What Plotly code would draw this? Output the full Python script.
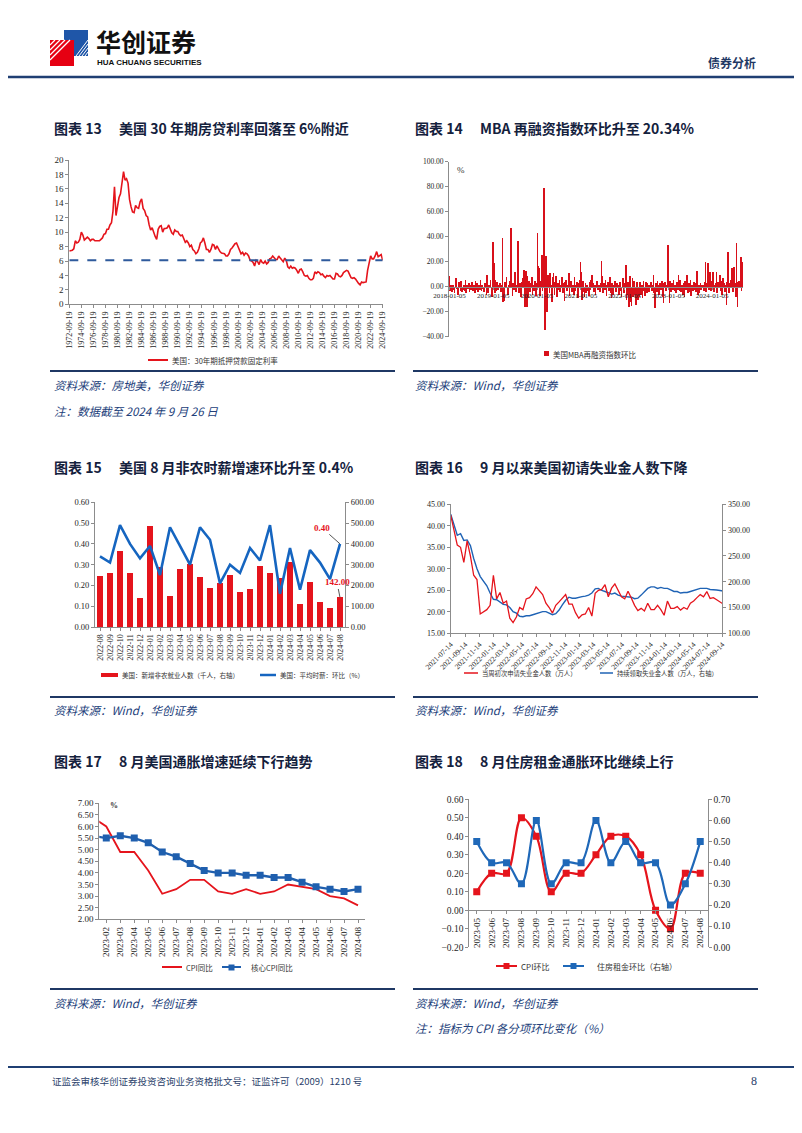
import pandas as pd
import plotly.graph_objects as go

# page size (reference pixels) and the browser's default body offset
PAGE_W, PAGE_H = 802, 1133
OFF = 8
W, H = PAGE_W - 2 * OFF, PAGE_H - 2 * OFF

# ======================= DATA =======================
# Chart 13: US 30-year fixed mortgage rate (%), quarterly readings from 1972-09-19
mortgage_start = "1972-09-19"
mortgage_rate = [
    7.4, 7.4,
    7.5, 7.7, 8.8, 8.5,
    8.6, 9.0, 10.0, 9.6,
    8.9, 9.1, 9.3, 9.1,
    8.8, 9.0, 9.0, 8.8,
    8.8, 8.9, 8.8, 9.0,
    9.2, 9.7, 9.8, 10.4,
    10.4, 11.0, 11.3, 12.9,
    16.3, 12.3, 13.5, 14.8,
    15.3, 16.6, 18.4, 17.2,
    17.4, 16.8, 14.5, 13.5,
    12.8, 12.7, 13.7, 13.4,
    13.3, 14.2, 14.6, 13.3,
    13.0, 12.3, 12.1, 11.0,
    10.3, 10.6, 9.9, 9.4,
    9.0, 10.4, 10.8, 10.9,
    10.0, 10.5, 10.5, 10.6,
    11.0, 10.3, 9.9, 9.7,
    10.3, 10.1, 10.1, 9.7,
    9.5, 9.6, 9.1, 8.6,
    8.8, 8.5, 8.0, 8.2,
    7.6, 7.4, 7.0, 7.2,
    7.7, 8.5, 8.7, 9.2,
    8.5, 7.6, 7.6, 7.2,
    7.6, 8.3, 8.2, 7.6,
    8.1, 7.6, 7.3, 7.1,
    7.0, 7.0, 6.7, 6.7,
    7.0, 7.6, 7.8, 8.1,
    8.4, 8.5, 7.9, 7.4,
    7.0, 7.2, 6.8, 7.1,
    7.0, 6.7, 6.1, 6.0,
    5.8, 5.3, 6.1, 5.9,
    5.5, 6.2, 5.8, 5.7,
    6.0, 5.6, 5.8, 6.3,
    6.4, 6.7, 6.4, 6.2,
    6.2, 6.7, 6.4, 6.1,
    5.9, 6.4, 6.1, 5.2,
    5.0, 5.3, 5.0, 5.1,
    5.0, 4.7, 4.3, 4.8,
    4.9, 4.5, 4.0, 3.9,
    4.0, 3.6, 3.4, 3.4,
    3.6, 4.5, 4.3, 4.5,
    4.4, 4.1, 4.2, 3.9,
    3.7, 4.0, 3.9, 4.0,
    3.7, 3.5, 3.5, 4.3,
    4.2, 3.9, 3.8, 4.0,
    4.4, 4.6, 4.7, 4.6,
    4.1, 3.7, 3.6, 3.7,
    3.5, 3.1, 2.9, 2.7,
    3.1, 3.0, 3.0, 3.1,
    4.7, 5.8, 6.7, 6.3,
    6.3, 6.7, 7.3, 6.6,
    6.8, 6.9, 6.1,
]
mortgage_ref_level = 6.1
mortgage_ticks = [f"{y}-09-19" for y in range(1972, 2025, 2)]

# Chart 14: MBA refinance index, week-on-week change (%), weekly from 2018-01-05
refi_start = "2018-01-05"
refi_2018 = [9, -3, 2, -4, 1, -2, -5, 3, 7, -1, -6, 4, 2, -3, 5, -4, -2, 1, -3, 6, -5, 2, -1, 3, -4, 2,
             -2, 4, -3, 1, -5, 5, -2, 3, -4, 1, -2, 6, -3, 2, -1, -4, 3, 2, -6, 10, -5, 2, 1, 6, -3, -8]
refi_2019 = [36, 19, -5, 6, -3, 4, -2, 1, 3, -4, 2, 39, -12, -11, 4, 2, 8, -3, -6, 2, 5, 47, 5, -7, 3, -2,
             12, -4, 2, 6, 37, -5, 3, -8, 4, 2, 7, 14, -16, 13, -16, 9, -9, 5, -4, 3, 8, -6, 2, -3, 5, -7]
refi_2020 = [3, 43, 17, 15, -7, 5, 26, -3, 10, 79, -34, 25, -20, 10, 3, -5, 11, 2, -12, 8, 11, -6, 4, 9, -8, 3,
             -2, 6, -4, 1, 8, -5, 3, -11, 4, 6, -3, 2, 11, -7, 3, 5, -4, 2, -6, 8, -3, 2, 4, -9, 3, 6]
refi_2021 = [20, 12, -10, 5, -4, -8, 3, -5, 2, -3, -7, 4, -2, 6, 10, 3, -4, 2, -6, 3, 5, -2, 1, -4, 3, 21,
             9, -5, 3, -2, 6, -7, 2, 4, -3, 8, -5, -9, 3, -6, 2, 5, -4, -2, 3, 1, -6, 4, -3, -8, 2, 7]
refi_2022 = [-5, 3, 18, -10, -6, 4, -16, 9, -12, -15, 7, -8, 5, -6, -14, 4, -3, -10, -8, 4, -6, 2, -9, 5, -3, -7,
             4, -5, 3, 2, -4, 1, 4, -3, 2, 10, -5, -17, 3, -4, 5, 2, -6, 3, -2, 5, -8, -13, 3, 4, -3, 2]
refi_2023 = [34, 18, -13, 5, -4, 3, -2, 6, -3, 2, -5, 4, -2, 10, -3, 6, -4, 2, -6, 3, -8, 5, -2, 10, -5, 3,
             -4, 6, -7, 2, -3, 4, -2, 3, -4, 13, -6, 2, -5, 3, -2, 1, 2, -3, 4, 20, -4, 3, 19, -2, 12, -3]
refi_2024 = [-3, 5, 12, -4, 2, 3, 12, -5, 4, 2, 10, -3, 5, -6, 7, 3, -4, 2, -14, 4, 28, -5, 3, 6, 2, 15,
             -4, 16, 3, -8, 35, -16, 4, 5, 2, 24, -3, 20]
refi_change = refi_2018 + refi_2019 + refi_2020 + refi_2021 + refi_2022 + refi_2023 + refi_2024
refi_ticks = ["2018-01-05", "2019-01-05", "2020-01-05", "2021-01-05", "2022-01-05", "2023-01-05", "2024-01-05"]

# Chart 15: nonfarm payrolls (thousand, right) and avg hourly earnings m/m (%, left)
nfp_months = ["2022-08", "2022-09", "2022-10", "2022-11", "2022-12", "2023-01", "2023-02", "2023-03",
              "2023-04", "2023-05", "2023-06", "2023-07", "2023-08", "2023-09", "2023-10", "2023-11",
              "2023-12", "2024-01", "2024-02", "2024-03", "2024-04", "2024-05", "2024-06", "2024-07", "2024-08"]
nfp_jobs = [246, 257, 363, 260, 136, 486, 289, 146, 278, 302, 241, 184, 210, 247, 165, 182,
            290, 256, 236, 310, 108, 216, 118, 89, 142]
ahe_mom = [0.34, 0.31, 0.49, 0.40, 0.33, 0.39, 0.25, 0.48, 0.39, 0.30, 0.48, 0.42, 0.21, 0.30, 0.26, 0.38,
           0.32, 0.49, 0.16, 0.38, 0.18, 0.37, 0.31, 0.23, 0.40]

# Chart 16: initial claims (10k, left) and continuing claims (10k, right), bi-weekly from 2021-07-14
claims_start = "2021-07-14"
initial_claims = [42.5, 39.0, 35.5, 35.0, 31.5, 36.5, 33.0, 28.5, 27.5, 19.5, 20.0, 20.5, 21.5, 28.5, 23.0,
                  24.5, 22.0, 22.5, 18.5, 17.5, 18.8, 21.0, 20.5, 23.0, 23.3, 24.2, 25.8, 25.0, 24.0, 22.0,
                  21.0, 19.7, 21.5, 22.3, 23.2, 24.0, 21.8, 21.8, 19.8, 18.5, 19.3, 19.5, 21.0, 19.0, 24.3,
                  25.0, 25.2, 26.3, 23.5, 25.5, 26.5, 25.0, 23.5, 23.0, 24.8, 23.2, 21.5, 20.3, 20.8, 20.2,
                  22.0, 20.5, 20.5, 21.5, 20.5, 19.2, 22.5, 20.8, 20.8, 21.2, 20.4, 21.0, 20.6, 22.0, 22.5,
                  23.3, 24.0, 23.5, 24.7, 23.1, 23.3, 22.8, 22.3, 21.8]
continuing_claims = [331, 310, 290, 293, 280, 281, 270, 245, 225, 210, 200, 192, 178, 166, 165, 161, 156, 155,
                     150, 142, 139, 133, 132, 134, 134, 136, 138, 141, 142, 142, 139, 136, 138, 145, 155, 164,
                     170, 168, 168, 170, 171, 172, 174, 178, 186, 187, 183, 181, 178, 176, 178, 174, 172, 171,
                     171, 170, 167, 168, 174, 181, 187, 190, 190, 187, 189, 187, 187, 184, 181, 181, 178, 179,
                     179, 181, 183, 185, 187, 187, 187, 185, 185, 184, 183, 182]
claims_ticks = ["2021-07-14", "2021-09-14", "2021-11-14", "2022-01-14", "2022-03-14", "2022-05-14",
                "2022-07-14", "2022-09-14", "2022-11-14", "2023-01-14", "2023-03-14", "2023-05-14",
                "2023-07-14", "2023-09-14", "2023-11-14", "2024-01-14", "2024-03-14", "2024-05-14",
                "2024-07-14", "2024-09-14"]

# Chart 17: CPI y/y and core CPI y/y (%)
cpi_months = ["2023-01", "2023-02", "2023-03", "2023-04", "2023-05", "2023-06", "2023-07", "2023-08",
              "2023-09", "2023-10", "2023-11", "2023-12", "2024-01", "2024-02", "2024-03", "2024-04",
              "2024-05", "2024-06", "2024-07", "2024-08"]
cpi_yoy = [6.4, 6.0, 4.9, 4.9, 4.1, 3.1, 3.3, 3.7, 3.7, 3.2, 3.1, 3.3, 3.1, 3.2, 3.5, 3.4, 3.3, 3.0, 2.9, 2.6]
core_cpi_yoy = [5.6, 5.5, 5.6, 5.5, 5.3, 4.9, 4.7, 4.4, 4.1, 4.0, 4.0, 3.9, 3.9, 3.8, 3.8, 3.6, 3.4, 3.3, 3.2, 3.3]

# Chart 18: CPI m/m (left) and shelter rent m/m (right), %
rent_months = ["2023-05", "2023-06", "2023-07", "2023-08", "2023-09", "2023-10", "2023-11", "2023-12",
               "2024-01", "2024-02", "2024-03", "2024-04", "2024-05", "2024-06", "2024-07", "2024-08"]
cpi_mom = [0.1, 0.2, 0.2, 0.5, 0.4, 0.1, 0.2, 0.2, 0.3, 0.4, 0.4, 0.3, 0.0, -0.1, 0.2, 0.2]
rent_mom = [0.5, 0.4, 0.4, 0.3, 0.6, 0.3, 0.4, 0.4, 0.6, 0.4, 0.5, 0.4, 0.4, 0.2, 0.3, 0.5]

# ======================= STYLE =======================
SERIF = "Liberation Serif, Times New Roman, serif"
CJK = "Noto Sans CJK SC, sans-serif"
RED = "#E5141C"
BLUE = "#1F5FAE"
NAVY = "#1F3864"
AXC = "#8C8C8C"


def X(px):
    return (px - OFF) / W


def Y(py):
    return 1 - (py - OFF) / H


def xdom(a, b):
    return [X(a), X(b)]


def ydom(top, bottom):
    return [Y(bottom), Y(top)]


def axis(size=9, **kw):
    d = dict(showgrid=False, zeroline=False, showline=True, linecolor=AXC, linewidth=1,
             ticks="outside", ticklen=3, tickcolor=AXC, automargin=False,
             tickfont=dict(family=SERIF, size=size, color="#262626"))
    d.update(kw)
    return d


annotations = []
shapes = []


def text(px, py, s, size=10, color="#111", family=CJK, xanchor="left", yanchor="middle", italic=False):
    f = dict(family=family, size=size, color=color)
    if italic:
        f["style"] = "italic"
    annotations.append(dict(x=X(px), y=Y(py), xref="paper", yref="paper", text=s, showarrow=False,
                            xanchor=xanchor, yanchor=yanchor, font=f))


def hline(x0, x1, py, color=NAVY, width=2):
    shapes.append(dict(type="line", xref="paper", yref="paper", x0=X(x0), x1=X(x1), y0=Y(py), y1=Y(py),
                       line=dict(color=color, width=width)))


def rect(x0, y0, x1, y1, fill):
    shapes.append(dict(type="rect", xref="paper", yref="paper", x0=X(x0), x1=X(x1), y0=Y(y0), y1=Y(y1),
                       fillcolor=fill, line=dict(color=fill, width=0)))


def seg(x0, y0, x1, y1, color, width=1):
    shapes.append(dict(type="line", xref="paper", yref="paper", x0=X(x0), x1=X(x1), y0=Y(y0), y1=Y(y1),
                       line=dict(color=color, width=width)))


fig = go.Figure()

# ---------- Chart 13 ----------
mortgage_dates = [pd.Timestamp(mortgage_start) + pd.DateOffset(months=3 * i) for i in range(len(mortgage_rate))]
fig.add_trace(go.Scatter(x=mortgage_dates, y=mortgage_rate, mode="lines", line=dict(color=RED, width=1.6),
                         xaxis="x", yaxis="y", showlegend=False))
fig.add_trace(go.Scatter(x=[mortgage_ticks[0], mortgage_ticks[-1]], y=[mortgage_ref_level] * 2, mode="lines",
                         line=dict(color="#2E5A9C", width=2, dash="dash"), xaxis="x", yaxis="y", showlegend=False))

# ---------- Chart 14 ----------
refi_dates = pd.date_range(refi_start, periods=len(refi_change), freq="7D")
fig.add_trace(go.Bar(x=refi_dates, y=refi_change, marker=dict(color="#D8101A", line=dict(width=0)),
                     width=6 * 86400000, xaxis="x2", yaxis="y2", showlegend=False))

# ---------- Chart 15 ----------
idx15 = list(range(len(nfp_months)))
fig.add_trace(go.Bar(x=idx15, y=nfp_jobs, marker=dict(color=RED, line=dict(width=0)), width=0.58,
                     xaxis="x3", yaxis="y3", showlegend=False))
fig.add_trace(go.Scatter(x=idx15, y=ahe_mom, mode="lines", line=dict(color="#1565C0", width=2.6),
                         xaxis="x3", yaxis="y7", showlegend=False))

# ---------- Chart 16 ----------
claims_dates = pd.date_range(claims_start, periods=len(initial_claims), freq="14D")
fig.add_trace(go.Scatter(x=claims_dates, y=continuing_claims, mode="lines", line=dict(color="#1F63B5", width=1.4),
                         xaxis="x4", yaxis="y4", showlegend=False))
fig.add_trace(go.Scatter(x=claims_dates, y=initial_claims, mode="lines", line=dict(color=RED, width=1.3),
                         xaxis="x4", yaxis="y8", showlegend=False))

# ---------- Chart 17 ----------
idx17 = list(range(len(cpi_months)))
fig.add_trace(go.Scatter(x=idx17, y=cpi_yoy, mode="lines", line=dict(color=RED, width=1.8),
                         xaxis="x5", yaxis="y5", showlegend=False))
fig.add_trace(go.Scatter(x=idx17, y=core_cpi_yoy, mode="lines+markers", line=dict(color=BLUE, width=2.4),
                         marker=dict(symbol="square", size=7, color=BLUE),
                         xaxis="x5", yaxis="y5", showlegend=False))

# ---------- Chart 18 ----------
idx18 = list(range(len(rent_months)))
fig.add_trace(go.Scatter(x=idx18, y=cpi_mom, mode="lines+markers", line=dict(color=RED, width=2.2, shape="spline"),
                         marker=dict(symbol="square", size=7, color=RED),
                         xaxis="x6", yaxis="y6", showlegend=False))
fig.add_trace(go.Scatter(x=idx18, y=rent_mom, mode="lines+markers", line=dict(color="#1F68B8", width=2.2, shape="spline"),
                         marker=dict(symbol="square", size=7, color="#1F68B8"),
                         xaxis="x6", yaxis="y9", showlegend=False))

# ======================= AXES =======================
fig.update_layout(
    xaxis=axis(size=8, domain=xdom(69.3, 382.7), anchor="y", type="date",
               range=[mortgage_ticks[0], mortgage_ticks[-1]], tickmode="array",
               tickvals=mortgage_ticks, ticktext=mortgage_ticks, tickangle=-90),
    yaxis=axis(size=9, domain=ydom(160, 304.3), anchor="x", range=[0, 20], dtick=2, tick0=0),

    xaxis2=axis(size=7, domain=xdom(449, 743), anchor="free", position=Y(286.7), type="date",
                range=["2018-01-01", "2024-09-18"], tickmode="array", tickvals=refi_ticks,
                ticktext=refi_ticks, tickangle=0, ticklen=2),
    yaxis2=axis(size=7.5, domain=ydom(161.7, 336.7), anchor="x2", range=[-40, 100], dtick=20, tick0=0,
                tickformat=".2f"),

    xaxis3=axis(size=8, domain=xdom(95, 345), anchor="y3", range=[-0.5, 24.5], tickmode="array",
                tickvals=idx15, ticktext=nfp_months, tickangle=-90),
    yaxis3=axis(size=8.5, domain=ydom(502.3, 627), anchor="x3", side="right", range=[0, 600], dtick=100,
                tick0=0, tickformat=".2f"),
    yaxis7=axis(size=8.5, anchor="x3", overlaying="y3", side="left", range=[0, 0.6], dtick=0.1, tick0=0,
                tickformat=".2f"),

    xaxis4=axis(size=7.5, domain=xdom(450.7, 722.3), anchor="y4", type="date",
                range=[claims_ticks[0], claims_ticks[-1]], tickmode="array", tickvals=claims_ticks,
                ticktext=claims_ticks, tickangle=-45),
    yaxis4=axis(size=8, domain=ydom(504.3, 633.3), anchor="x4", side="right", range=[100, 350], dtick=50,
                tick0=100, tickformat=".2f"),
    yaxis8=axis(size=8, anchor="x4", overlaying="y4", side="left", range=[15, 45], dtick=5, tick0=15,
                tickformat=".2f"),

    xaxis5=axis(size=9, domain=xdom(99.3, 365), anchor="y5", range=[0.5, 19.5], tickmode="array",
                tickvals=idx17[1:], ticktext=cpi_months[1:], tickangle=-90),
    yaxis5=axis(size=9, domain=ydom(803.3, 919.3), anchor="x5", range=[2, 7], dtick=0.5, tick0=2,
                tickformat=".2f"),

    xaxis6=axis(size=9, domain=xdom(469.3, 707.7), anchor="free", position=Y(910.3), range=[-0.5, 15.5],
                tickmode="array", tickvals=idx18, ticktext=rent_months, tickangle=-90),
    yaxis6=axis(size=9.5, domain=ydom(799.3, 947.3), anchor="x6", range=[-0.2, 0.6], dtick=0.1, tick0=-0.2,
                tickformat=".2f"),
    yaxis9=axis(size=9.5, anchor="x6", overlaying="y6", side="right", range=[0, 0.7], dtick=0.1, tick0=0,
                tickformat=".2f"),
)

# ======================= PAGE DECORATION =======================
# logo
rect(64, 30, 88, 56, "#1F56A8")
rect(50, 40, 74, 66, "#E60012")
for k in range(5):
    seg(50 + 5 * k, 40, 50, 40 + 5 * k, "white", 1.2)
for k in range(4):
    seg(88, 40 + 4 * k, 76 + 3 * k, 56, "white", 1.0)
text(94, 41, "<b>华创证券</b>", size=25, color="#111", family=CJK)
text(95, 62, "<b>HUA CHUANG SECURITIES</b>", size=8, color="#111",
     family="Liberation Sans Narrow, Liberation Sans, Arial, sans-serif")
text(758, 63, "<b>债券分析</b>", size=12, color=NAVY, xanchor="right")
hline(8, 794, 77, color="#1F3F73", width=2.5)

# titles
for (px, py, num, title) in [
    (52, 128, "图表 13", "美国 30 年期房贷利率回落至 6%附近"),
    (413, 128, "图表 14", "MBA 再融资指数环比升至 20.34%"),
    (52, 467, "图表 15", "美国 8 月非农时薪增速环比升至 0.4%"),
    (413, 467, "图表 16", "9 月以来美国初请失业金人数下降"),
    (52, 761, "图表 17", "8 月美国通胀增速延续下行趋势"),
    (413, 761, "图表 18", "8 月住房租金通胀环比继续上行"),
]:
    text(px, py, f"<b>{num}</b>", size=14, color="#14213D")
    text(px + 65, py, f"<b>{title}</b>", size=14, color="#14213D")

# separators and sources
SRC = "#22407A"
SS = 11.5
hline(50, 395, 371)
hline(413, 758, 371)
text(52, 385, "资料来源：房地美，华创证券", size=SS, color=SRC, italic=True)
text(52, 411, "注：数据截至 2024 年 9 月 26 日", size=SS, color=SRC, italic=True)
text(413, 385, "资料来源：Wind，华创证券", size=SS, color=SRC, italic=True)

hline(50, 395, 697)
hline(413, 758, 697)
text(52, 710, "资料来源：Wind，华创证券", size=SS, color=SRC, italic=True)
text(413, 710, "资料来源：Wind，华创证券", size=SS, color=SRC, italic=True)

hline(50, 395, 989)
hline(413, 758, 989)
text(52, 1003, "资料来源：Wind，华创证券", size=SS, color=SRC, italic=True)
text(413, 1003, "资料来源：Wind，华创证券", size=SS, color=SRC, italic=True)
text(413, 1028, "注：指标为 CPI 各分项环比变化（%）", size=SS, color=SRC, italic=True)

# footer
hline(8, 794, 1067, color="#1F3F73", width=2)
text(50, 1081, "证监会审核华创证券投资咨询业务资格批文号：证监许可（2009）1210 号", size=9.5, color="#2B3F6B")
text(759, 1081, "8", size=12, color="#2B3F6B", family=SERIF, xanchor="right")

# ======================= LEGENDS / CHART LABELS =======================
LEG = "#333"
# chart 13
seg(148, 360, 168, 360, RED, 2)
text(170, 360, "美国：30年期抵押贷款固定利率", size=7.5, color=LEG)
# chart 14
rect(544, 351, 549, 356, "#D8101A")
text(551, 354, "美国MBA再融资指数环比", size=7.5, color=LEG)
text(455, 170, "%", size=9, color="#333", family=SERIF)
# chart 15
rect(101, 673, 118, 677, RED)
text(120, 675, "美国：新增非农就业人数（千人，右轴）", size=6.5, color=LEG)
seg(260, 675, 276, 675, "#1565C0", 2.5)
text(278, 675, "美国：平均时薪：环比（%）", size=6.5, color=LEG)
annotations.append(dict(x=len(nfp_months) - 1, y=ahe_mom[-1], xref="x3", yref="y7",
                        text="<b>%.2f</b>" % ahe_mom[-1], showarrow=True, arrowhead=0, arrowcolor="#555",
                        arrowwidth=1, ax=-18, ay=-16, standoff=0,
                        font=dict(family=SERIF, size=9, color=RED)))
annotations.append(dict(x=len(nfp_months) - 1, y=nfp_jobs[-1], xref="x3", yref="y3",
                        text="<b>%.2f</b>" % nfp_jobs[-1], showarrow=True, arrowhead=0, arrowcolor="#555",
                        arrowwidth=1, ax=-3, ay=-15, standoff=0,
                        font=dict(family=SERIF, size=9, color=RED)))
# chart 16
seg(464, 673, 478, 673, RED, 1.5)
text(480, 673, "当周初次申请失业金人数（万人）", size=6.3, color=LEG)
seg(600, 673, 613, 673, "#1F63B5", 1.5)
text(615, 673, "持续领取失业金人数（万人，右轴）", size=6.3, color=LEG)
# chart 17
text(108, 805, "<b>%</b>", size=8, color="#333", family=SERIF)
seg(162, 967, 182, 967, RED, 2)
text(184, 967, "CPI同比", size=7.5, color=LEG)
seg(222, 967, 241, 967, BLUE, 2)
rect(228.5, 964.5, 234.5, 970.5, BLUE)
text(249, 967, "核心CPI同比", size=7.5, color=LEG)
# chart 18
seg(496, 966, 517, 966, RED, 2)
rect(503.5, 963, 509.5, 969, RED)
text(519, 966, "CPI环比", size=8, color=LEG)
seg(563, 966, 584, 966, "#1F68B8", 2)
rect(570.5, 963, 576.5, 969, "#1F68B8")
text(595, 966, "住房租金环比（右轴）", size=8, color=LEG)

fig.update_layout(
    width=W, height=H, margin=dict(l=0, r=0, t=0, b=0, autoexpand=False),
    paper_bgcolor="white", plot_bgcolor="white",
    showlegend=False, bargap=0,
    annotations=annotations, shapes=shapes,
    font=dict(family=SERIF),
)

fig.write_html("out.html")
